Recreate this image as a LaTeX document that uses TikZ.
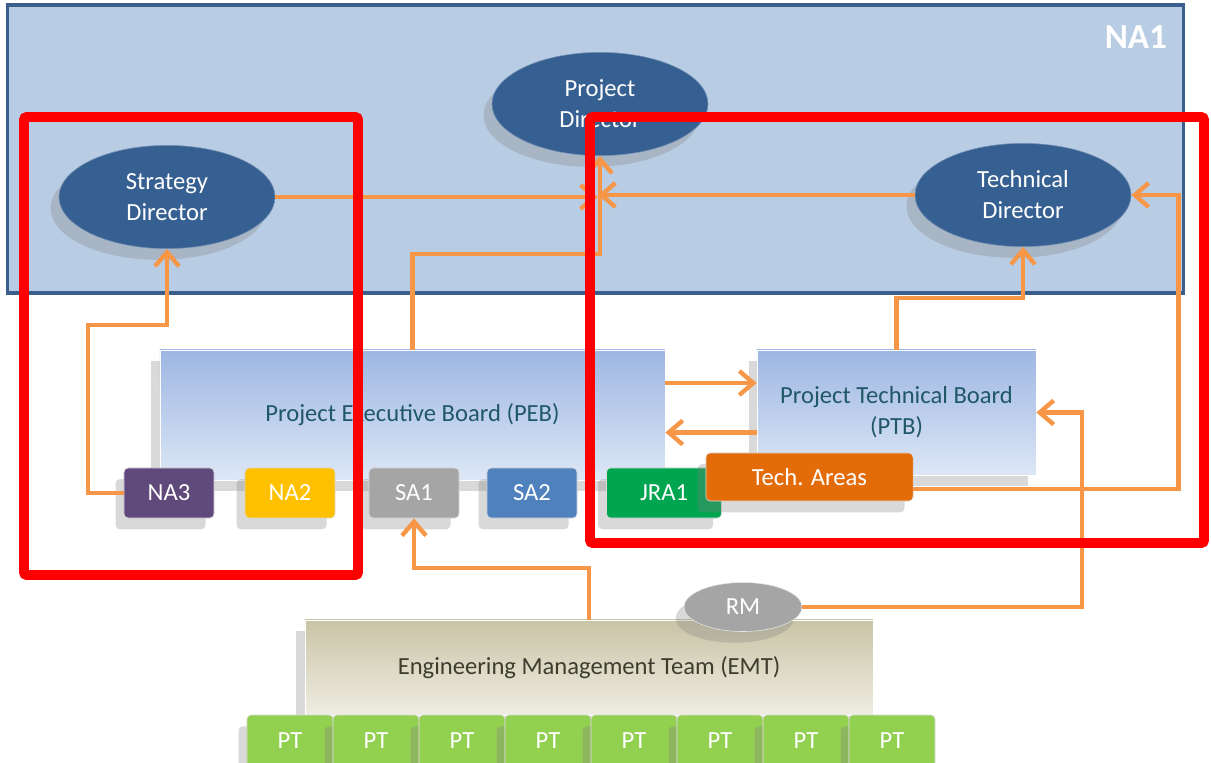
\documentclass[tikz,border=0pt]{standalone}
\usepackage{fontspec}
\setmainfont{Carlito}
\usetikzlibrary{arrows.meta,positioning,shapes.geometric,shadows}

\definecolor{nafill}{HTML}{B8CCE4}
\definecolor{naline}{HTML}{3B5E8C}
\definecolor{dirblue}{HTML}{376092}
\definecolor{boardtop}{HTML}{9DB6E2}
\definecolor{boardbot}{HTML}{DDE7F6}
\definecolor{boardtext}{HTML}{215867}
\definecolor{emttop}{HTML}{C9C4A6}
\definecolor{emtbot}{HTML}{EFEDE3}
\definecolor{emttext}{HTML}{3D3D2E}
\definecolor{linkorange}{HTML}{F79646}
\definecolor{na3col}{HTML}{604A7B}
\definecolor{na2col}{HTML}{FFC000}
\definecolor{sa1col}{HTML}{A5A5A5}
\definecolor{sa2col}{HTML}{4F81BD}
\definecolor{jracol}{HTML}{00A550}
\definecolor{techcol}{HTML}{E36C09}
\definecolor{ptcol}{HTML}{92D050}

\begin{document}
\begin{tikzpicture}[x=0.025cm, y=-0.025cm, >={Straight Barb[length=3.5mm,width=6mm]},
  every node/.style={font=\fontsize{17.5}{22}\selectfont},
  soft/.style={drop shadow={opacity=0.3, shadow xshift=-6pt, shadow yshift=-8pt}},
  director/.style={ellipse, fill=dirblue, draw=dirblue!70!white, text=white, align=center,
    minimum width=5.4cm, minimum height=2.58cm, inner sep=1pt, soft},
  board/.style={rectangle, top color=boardtop, bottom color=boardbot, draw=white,
    text=boardtext, align=center, soft},
  chip/.style={rectangle, rounded corners=3pt, minimum height=1.25cm, text=white,
    draw=white!70!gray, soft},
  link/.style={draw=linkorange, line width=3.1pt},
  frame/.style={draw=red, line width=7pt, rounded corners=2pt}]

\useasboundingbox (0,0) rectangle (1211,763);

% NA1 area
\node [rectangle, fill=nafill, draw=naline, line width=2.2pt,
  minimum width=29.375cm, minimum height=7.2cm] (na1) at (595.5,149) {};
\node [anchor=east, text=white, font=\fontsize{25}{30}\selectfont\bfseries] (na1-label) at (1172,37) {NA1};

\node [director] (pdir) at (600,104) {Project\\Director};
\node [director] (sdir) at (167,197) {Strategy\\Director};
\node [director] (tdir) at (1023,195) {Technical\\Director};
\coordinate (hub) at (598,198);

% boards
\node [board, minimum width=12.625cm, minimum height=3.25cm] (peb) at (412.5,415) {Project Executive Board (PEB)};
\node [board, minimum width=6.975cm, minimum height=3.125cm] (ptb) at (896.5,412.5) {Project Technical Board\\(PTB)};

\foreach \n/\c/\x in {NA3/na3col/169, NA2/na2col/290, SA1/sa1col/414, SA2/sa2col/532}
  \node [chip, fill=\c, minimum width=2.25cm] (chip-\n) at (\x,493) {\n};
\node [chip, fill=jracol, minimum width=2.875cm] (chip-JRA1) at (664,493) {JRA1};
\node [chip, fill=techcol, minimum width=5.175cm, minimum height=1.2cm] (tech) at (809.5,477) {Tech. Areas};

\node [board, top color=emttop, bottom color=emtbot, text=emttext,
  minimum width=14.2cm, minimum height=2.375cm] (emt) at (589,667.5) {Engineering Management Team (EMT)};
\node [ellipse, fill=sa1col, draw=white!80!gray, text=white, minimum width=2.95cm,
  minimum height=1.225cm, soft] (rm) at (743,607) {RM};

\foreach \i in {1,...,8}
  \node [chip, fill=ptcol, minimum width=2.15cm, minimum height=1.3cm] (pt-\i) at (204+86*\i,741) {PT};

% links
\draw [link, ->] (sdir.east) -- (sdir.east -| hub);
\draw [link, ->] (tdir.west) -- (tdir.west -| hub);
\draw [link, ->] (peb.north) -- ++(0,-96) -| (pdir.south);
\draw [link, ->] (chip-NA3.west) -- ++(-36,0) -- ++(0,-168) -| (sdir.south);
\draw [link, ->] ([yshift=0.8cm]peb.east) -- ([yshift=0.8cm]peb.east -| ptb.west);
\draw [link, ->] ([yshift=-0.5cm]ptb.west) -- ([yshift=-0.5cm]ptb.west -| peb.east);
\draw [link, ->] (ptb.north) -- ++(0,-52) -| (tdir.south);
\draw [link, ->] ([yshift=-0.3cm]tech.east) -- ++(265,0) |- (tdir.east);
\draw [link, ->] (rm.east) -- ++(280,0) |- (ptb.east);
\draw [link, ->] (emt.north) -- ++(0,-52) -| (chip-SA1.south);

% highlight frames
\draw [frame] (24,117) rectangle (358,575);
\draw [frame] (590,117) rectangle (1204,543);

\end{tikzpicture}
\end{document}
